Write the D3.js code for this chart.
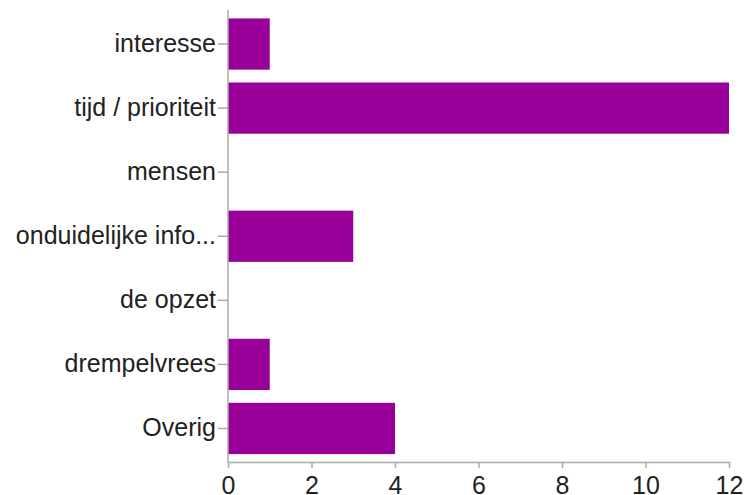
<!DOCTYPE html>
<html><head><meta charset="utf-8">
<script src="https://cdn.jsdelivr.net/npm/d3@7"></script>
<style>body{margin:0;background:#fff}svg{display:block}</style>
</head><body>
<script>
const categories = ["interesse","tijd / prioriteit","mensen","onduidelijke info...","de opzet","drempelvrees","Overig"];
const values = [1,12,0,3,0,1,4];
const xTicks = [0,2,4,6,8,10,12];

const W=747,H=495;
const m={left:228,right:18,top:12,bottom:34};
const svg=d3.select("body").append("svg").attr("width",W).attr("height",H);
const x=d3.scaleLinear().domain([0,12]).range([m.left,729]);
const y=d3.scaleBand().domain(categories).range([12,460.5]).paddingInner(0.2).paddingOuter(0.1);
const font="'Liberation Sans', Arial, Helvetica, sans-serif";

svg.selectAll("rect.bar").data(values).enter().append("rect")
  .attr("x",x(0)).attr("y",(d,i)=>y(categories[i]))
  .attr("width",d=>x(d)-x(0)).attr("height",y.bandwidth())
  .attr("fill","#990099");

const ya=svg.append("g").attr("transform",`translate(${x(0)},0)`)
  .call(d3.axisLeft(y).tickSize(10).tickPadding(2).tickSizeOuter(0));
ya.select(".domain").attr("d",`M0,10V462`);
const xa=svg.append("g").attr("transform",`translate(0,462)`)
  .call(d3.axisBottom(x).tickValues(xTicks).tickSize(6).tickPadding(8).tickSizeOuter(0));
[ya,xa].forEach(g=>{
  g.selectAll("path,line").attr("stroke","#aaa").attr("stroke-width",1.5);
  g.selectAll("text").attr("font-family",font).attr("font-size",25).attr("fill","#222");
});
</script>
</body></html>
